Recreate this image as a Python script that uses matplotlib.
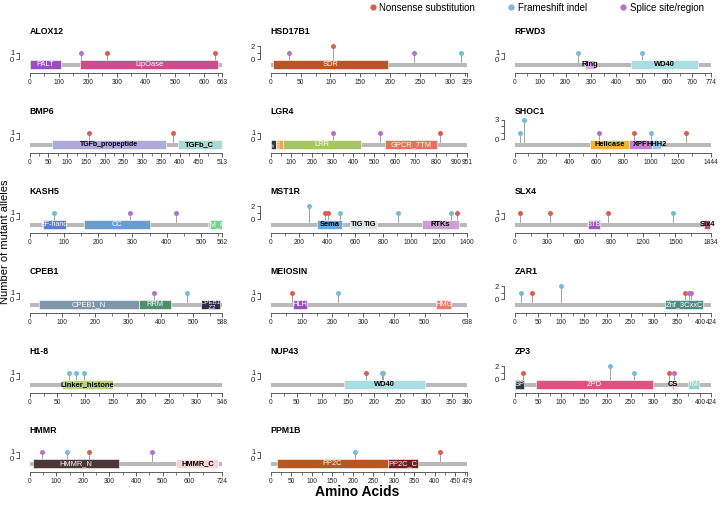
import matplotlib.pyplot as plt
from matplotlib.patches import Rectangle
from matplotlib.lines import Line2D

plt.rcParams['font.family'] = ['Liberation Sans', 'DejaVu Sans']

# panels, column by column
col_left = ['ALOX12', 'BMP6', 'KASH5', 'CPEB1', 'H1-8', 'HMMR']
col_mid = ['HSD17B1', 'LGR4', 'MST1R', 'MEIOSIN', 'NUP43', 'PPM1B']
col_right = ['RFWD3', 'SHOC1', 'SLX4', 'ZAR1', 'ZP3']

lengths = {
    'ALOX12': 663, 'BMP6': 513, 'KASH5': 562, 'CPEB1': 588, 'H1-8': 346, 'HMMR': 724,
    'HSD17B1': 329, 'LGR4': 951, 'MST1R': 1400, 'MEIOSIN': 638, 'NUP43': 380, 'PPM1B': 479,
    'RFWD3': 774, 'SHOC1': 1444, 'SLX4': 1834, 'ZAR1': 424, 'ZP3': 424,
}

# x ticks: (step, last labelled multiple before the protein length)
tick_steps = {
    'ALOX12': (100, 600), 'BMP6': (50, 450), 'KASH5': (100, 500), 'CPEB1': (100, 500),
    'H1-8': (50, 300), 'HMMR': (100, 600), 'HSD17B1': (50, 300), 'LGR4': (100, 900),
    'MST1R': (200, 1400), 'MEIOSIN': (100, 500), 'NUP43': (50, 350), 'PPM1B': (50, 450),
    'RFWD3': (100, 700), 'SHOC1': (200, 1200), 'SLX4': (300, 1500), 'ZAR1': (50, 400),
    'ZP3': (50, 400),
}

# domains: (name, start, end)
domains = {
    'ALOX12': [('PALT', 1, 108), ('LipOase', 173, 649)],
    'BMP6': [('TGFb_propeptide', 60, 363), ('TGFb_C', 394, 513)],
    'KASH5': [('EF-hand', 38, 106), ('CC', 159, 351), ('TM_R', 526, 560)],
    'CPEB1': [('CPEB1_N', 29, 333), ('RRM', 333, 433), ('CPEB1_Z2', 523, 582)],
    'H1-8': [('Linker_histone', 58, 150)],
    'HMMR': [('HMMR_N', 14, 337), ('HMMR_C', 552, 709)],
    'HSD17B1': [('SDR', 4, 197)],
    'LGR4': [('SP', 1, 25), ('LRRNT', 25, 57), ('LRR', 57, 436), ('GPCR_7TM', 554, 804)],
    'MST1R': [('Sema', 327, 508), ('TIG', 567, 670), ('TIG', 670, 754), ('RTKs', 1077, 1340)],
    'MEIOSIN': [('HLH', 71, 118), ('HMG', 538, 587)],
    'NUP43': [('WD40', 142, 298)],
    'PPM1B': [('PP2C', 14, 285), ('PP2C_C', 285, 358)],
    'RFWD3': [('Ring', 275, 318), ('WD40', 459, 724)],
    'SHOC1': [('Helicase', 551, 839), ('XPF', 839, 1007), ('HHH2', 1007, 1076)],
    'SLX4': [('BTB', 684, 799), ('Slx4', 1768, 1825)],
    'ZAR1': [('Znf_3CxxC', 324, 407)],
    'ZP3': [('SP', 1, 20), ('ZPD', 45, 299), ('CS', 340, 343), ('TM', 375, 397)],
}

# mutations: (position, alleles, type)  N nonsense, F frameshift, S splice
mutations = {
    'ALOX12': [(178, 1, 'S'), (268, 1, 'N'), (638, 1, 'N')],
    'BMP6': [(158, 1, 'N'), (381, 1, 'N')],
    'KASH5': [(72, 1, 'F'), (293, 1, 'S'), (427, 1, 'S')],
    'CPEB1': [(380, 1, 'S'), (481, 1, 'F')],
    'H1-8': [(71, 1, 'F'), (84, 1, 'F'), (98, 1, 'F')],
    'HMMR': [(46, 1, 'S'), (142, 1, 'F'), (222, 1, 'N'), (461, 1, 'S')],
    'HSD17B1': [(31, 1, 'S'), (104, 2, 'N'), (240, 1, 'S'), (318, 1, 'F')],
    'LGR4': [(300, 1, 'S'), (527, 1, 'S'), (820, 1, 'N')],
    'MST1R': [(275, 2, 'F'), (390, 1, 'N'), (409, 1, 'N'), (490, 1, 'F'), (908, 1, 'F'),
              (1284, 1, 'F'), (1330, 1, 'N')],
    'MEIOSIN': [(69, 1, 'N'), (218, 1, 'F')],
    'NUP43': [(185, 1, 'N'), (215, 1, 'F'), (218, 1, 'F')],
    'PPM1B': [(206, 1, 'F'), (413, 1, 'N')],
    'RFWD3': [(250, 1, 'F'), (500, 1, 'F')],
    'SHOC1': [(40, 1, 'F'), (69, 3, 'F'), (620, 1, 'S'), (880, 1, 'N'), (1000, 1, 'F'),
              (1256, 1, 'N')],
    'SLX4': [(44, 1, 'N'), (328, 1, 'N'), (869, 1, 'N'), (1480, 1, 'F')],
    'ZAR1': [(14, 1, 'F'), (38, 1, 'N'), (99, 2, 'F'), (368, 1, 'N'), (376, 1, 'S'), (380, 1, 'S')],
    'ZP3': [(17, 1, 'N'), (206, 2, 'F'), (257, 1, 'F'), (334, 1, 'N'), (344, 1, 'S')],
}

type_names = {'N': 'Nonsense substitution', 'F': 'Frameshift indel', 'S': 'Splice site/region'}
type_colors = {'N': '#d9604f', 'F': '#72bddb', 'S': '#b96fcc'}

# fill colour, text colour
domain_colors = {
    'PALT': ('#9a4fbf', 'white'), 'LipOase': ('#c84f8b', 'white'),
    'TGFb_propeptide': ('#adabdc', 'black'), 'TGFb_C': ('#a9d9d4', 'black'),
    'EF-hand': ('#5c80c4', 'white'), 'CC': ('#6a9dcb', 'white'), 'TM_R': ('#72cf8c', 'white'),
    'CPEB1_N': ('#7f97ab', 'white'), 'RRM': ('#4f8e6d', 'white'), 'CPEB1_Z2': ('#2f2f4d', 'white'),
    'Linker_histone': ('#b6d27c', 'black'),
    'HMMR_N': ('#4b3737', 'white'), 'HMMR_C': ('#f6d6d6', 'black'),
    'SDR': ('#b5572c', 'white'),
    'SP': ('#2e3a4b', 'white'), 'LRRNT': ('#f0a355', 'white'), 'LRR': ('#a7c567', 'white'),
    'GPCR_7TM': ('#ea6f5f', 'white'),
    'Sema': ('#71a5d6', 'black'), 'TIG': ('#dfe3e8', 'black'), 'RTKs': ('#c9a2d2', 'black'),
    'HLH': ('#9a4fbf', 'white'), 'HMG': ('#ec7b6a', 'white'),
    'WD40': ('#a9dde2', 'black'),
    'PP2C': ('#b4581f', 'white'), 'PP2C_C': ('#6e1f1b', 'white'),
    'Ring': ('#d6aee2', 'black'),
    'Helicase': ('#e7b83a', 'black'), 'XPF': ('#c77dd1', 'black'), 'HHH2': ('#8ecae2', 'black'),
    'BTB': ('#9d5cbb', 'white'), 'Slx4': ('#c25079', 'black'),
    'Znf_3CxxC': ('#4f8b88', 'white'),
    'ZPD': ('#d9557f', 'white'), 'CS': ('#f0a355', 'black'), 'TM': ('#93d6cb', 'white'),
}

W, H = 720, 508
col_px = [19, 260, 504]
col_w = [210, 214, 214]
row_px = [64, 144, 224, 304, 384, 463]
UNIT = 6.5          # pixels per allele
Y0, Y1 = -2.15, 3.6

fig = plt.figure(figsize=(7.2, 5.08), dpi=100)


def draw_panel(gene, left, width, yb):
    L = lengths[gene]
    h = (Y1 - Y0) * UNIT
    bottom = yb + 9
    ax = fig.add_axes([left / W, 1 - bottom / H, width / W, h / H])
    ax.set_xlim(-0.055 * L, 1.035 * L)
    ax.set_ylim(Y0, Y1)

    ax.add_patch(Rectangle((0, -1.15), L, 0.6, facecolor='#b9b9b9', lw=0, zorder=2))
    for name, s, e in domains[gene]:
        fc, tc = domain_colors[name]
        ax.add_patch(Rectangle((s, -1.55), e - s, 1.4, facecolor=fc, edgecolor='white',
                               lw=0.4, zorder=3))
        label, fs, rot = name, 5.4, 0
        if gene == 'LGR4' and name in ('SP', 'LRRNT'):
            fs, rot = 2.8, 90
        if name == 'CPEB1_Z2':
            label, fs = 'CPEB1\n_Z2', 4.4
        if name in ('EF-hand', 'TGFb_propeptide'):
            fs = 5.0
        ax.text((s + e) / 2, -0.87, label, ha='center', va='center', fontsize=fs,
                rotation=rot, color=tc, fontweight='bold' if tc == 'black' else 'normal',
                zorder=4, linespacing=0.8)

    for pos, n, t in mutations[gene]:
        ax.plot([pos, pos], [-0.85, n], color='#a3a3a3', lw=0.7, zorder=1)
        ax.plot(pos, n, 'o', ms=3.6, color=type_colors[t], mec='none', zorder=5)

    ymax = max(m[1] for m in mutations[gene])
    ax.set_yticks(range(0, ymax + 1))
    ax.set_yticklabels([str(v) if v in (0, ymax) else '' for v in range(0, ymax + 1)])
    ax.spines['left'].set_bounds(0, ymax)

    step, last = tick_steps[gene]
    major = list(range(0, last + 1, step)) + ([L] if L != last else [])
    ax.set_xticks(major)
    ax.set_xticklabels([str(v) for v in major])
    minor = [v + step / 2 for v in range(0, L, step) if v + step / 2 < L]
    ax.set_xticks(minor, minor=True)
    ax.spines['bottom'].set_bounds(0, L)

    for sp in ('top', 'right'):
        ax.spines[sp].set_visible(False)
    for sp in ('left', 'bottom'):
        ax.spines[sp].set_linewidth(0.6)
        ax.spines[sp].set_color('#444444')
    ax.tick_params(axis='x', which='major', length=3, width=0.6, labelsize=4.8, pad=1.5,
                   color='#444444', labelcolor='#222222')
    ax.tick_params(axis='x', which='minor', length=1.8, width=0.5, color='#444444')
    ax.tick_params(axis='y', length=2.2, width=0.6, labelsize=5.5, pad=1.2,
                   color='#444444', labelcolor='#222222')
    ax.patch.set_visible(False)

    ax.text(0, 4.3, gene, fontsize=6.3, fontweight='bold', ha='left', va='center',
            clip_on=False)


for c, genes in enumerate([col_left, col_mid, col_right]):
    for r, gene in enumerate(genes):
        draw_panel(gene, col_px[c], col_w[c], row_px[r])

# legend
handles = [Line2D([], [], marker='o', ls='none', ms=4.5, color=type_colors[k], mec='none')
           for k in ('N', 'F', 'S')]
fig.legend(handles, [type_names[k] for k in ('N', 'F', 'S')], ncol=3, frameon=False,
           loc='upper right', bbox_to_anchor=(0.99, 1.012), fontsize=7, handletextpad=0.2,
           columnspacing=3.2, handlelength=1.0)

fig.text(5.5 / W, 1 - 242 / H, 'Number of mutant alleles', rotation=90, ha='center',
         va='center', fontsize=8)
fig.text(357 / W, 1 - 492 / H, 'Amino Acids', ha='center', va='center', fontsize=10,
         fontweight='bold')

fig.savefig('out.png', dpi=100)
